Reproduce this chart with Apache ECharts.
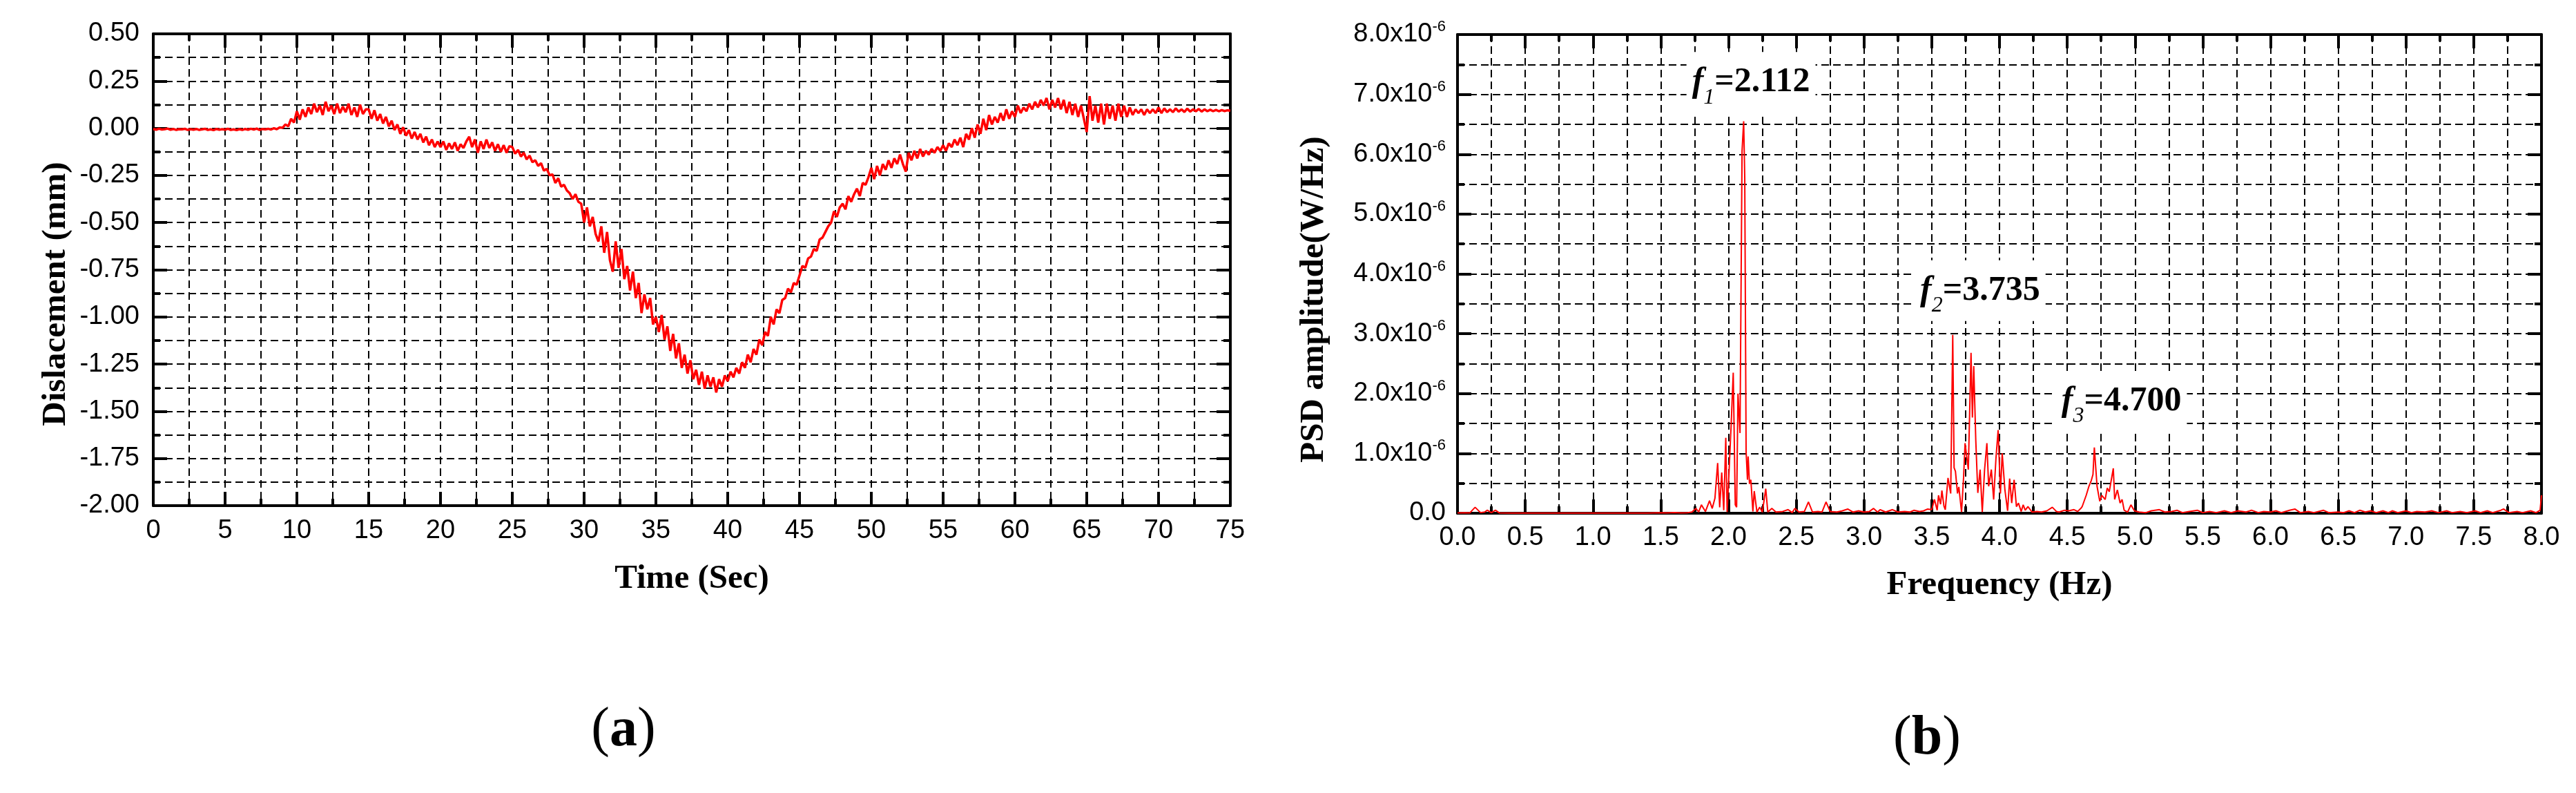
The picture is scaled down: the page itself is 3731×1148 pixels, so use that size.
<!DOCTYPE html>
<html><head><meta charset="utf-8">
<script src="https://cdn.jsdelivr.net/npm/echarts@6/dist/echarts.min.js"></script>
<style>html,body{margin:0;padding:0;background:#fff}#c{width:3731px;height:1148px}</style>
</head><body><div id="c"></div>
<script>
// ---------- DATA ----------
// (a) displacement time history, sampled every dispStep seconds starting at 0 s
const dispStep = 0.2;
const displacement = [
 -0.004,-0.008,-0.003,-0.007,-0.005,-0.002,-0.008,-0.004,-0.009,-0.005,-0.006,-0.003,-0.009,-0.005,-0.008,-0.004,-0.009,-0.006,-0.003,-0.009,-0.006,-0.010,-0.004,-0.008,-0.005,
 -0.008,-0.003,-0.009,-0.006,-0.010,-0.005,-0.009,-0.004,-0.008,-0.003,-0.007,-0.002,-0.009,-0.004,-0.006,-0.003,-0.007,0.000,-0.005,0.004,0.002,0.020,0.010,0.050,0.030,
 0.090,0.045,0.100,0.060,0.110,0.075,0.130,0.085,0.120,0.070,0.140,0.090,0.120,0.075,0.130,0.080,0.115,0.085,0.130,0.070,0.110,0.060,0.125,0.075,0.100,
 0.100,0.050,0.095,0.040,0.075,0.025,0.060,0.010,0.040,-0.010,0.020,-0.030,0.005,-0.040,-0.010,-0.055,-0.020,-0.060,-0.030,-0.075,-0.045,-0.090,-0.060,-0.100,-0.070,
 -0.100,-0.070,-0.115,-0.080,-0.110,-0.075,-0.120,-0.085,-0.105,-0.070,-0.045,-0.100,-0.060,-0.130,-0.070,-0.110,-0.060,-0.105,-0.075,-0.120,-0.085,-0.125,-0.090,-0.130,-0.095,
 -0.100,-0.135,-0.115,-0.150,-0.130,-0.165,-0.145,-0.180,-0.170,-0.200,-0.185,-0.225,-0.215,-0.250,-0.245,-0.290,-0.265,-0.310,-0.300,-0.330,-0.345,-0.375,-0.350,-0.390,-0.400,
 -0.500,-0.420,-0.520,-0.470,-0.560,-0.600,-0.520,-0.660,-0.550,-0.700,-0.760,-0.600,-0.740,-0.640,-0.800,-0.730,-0.860,-0.760,-0.900,-0.820,-0.980,-0.880,-0.960,-0.900,-1.040,
 -1.000,-1.080,-0.990,-1.120,-1.050,-1.180,-1.090,-1.220,-1.140,-1.270,-1.200,-1.300,-1.230,-1.330,-1.280,-1.360,-1.290,-1.380,-1.310,-1.370,-1.320,-1.400,-1.330,-1.370,-1.310,
 -1.340,-1.290,-1.320,-1.270,-1.300,-1.240,-1.270,-1.200,-1.240,-1.170,-1.200,-1.120,-1.150,-1.080,-1.100,-1.000,-1.040,-0.960,-0.980,-0.910,-0.900,-0.850,-0.870,-0.820,-0.830,
 -0.780,-0.730,-0.740,-0.690,-0.680,-0.640,-0.650,-0.590,-0.580,-0.550,-0.520,-0.500,-0.440,-0.470,-0.420,-0.400,-0.430,-0.360,-0.390,-0.350,-0.320,-0.360,-0.290,-0.300,-0.260,
 -0.210,-0.270,-0.200,-0.250,-0.190,-0.220,-0.170,-0.210,-0.160,-0.190,-0.140,-0.190,-0.230,-0.130,-0.170,-0.120,-0.160,-0.110,-0.150,-0.120,-0.140,-0.110,-0.130,-0.100,-0.120,
 -0.090,-0.120,-0.080,-0.100,-0.060,-0.090,-0.050,-0.100,-0.030,-0.060,0.000,-0.050,0.020,-0.030,0.050,-0.010,0.070,0.020,0.060,0.030,0.080,0.040,0.100,0.050,0.090,
 0.060,0.120,0.080,0.110,0.090,0.130,0.100,0.140,0.110,0.150,0.120,0.160,0.100,0.150,0.110,0.160,0.100,0.150,0.080,0.140,0.070,0.130,0.060,0.120,0.050,
 -0.020,0.170,0.040,0.120,0.030,0.130,0.020,0.130,0.050,0.120,0.040,0.130,0.060,0.120,0.060,0.110,0.070,0.100,0.080,0.100,0.070,0.100,0.080,0.100,0.080,
 0.110,0.080,0.105,0.085,0.100,0.085,0.105,0.088,0.100,0.086,0.104,0.088,0.100,0.090,0.102,0.088,0.100,0.090,0.098,0.090,0.097,0.090,0.096,0.091,0.095,0.093
];

// (b) PSD: frequency (Hz) and amplitude (x10^-6 W/Hz)
const psdFreq = [
 0.00,0.05,0.09,0.13,0.17,0.20,0.22,0.25,0.28,0.31,0.40,0.60,0.80,1.00,1.20,1.40,1.50,1.55,1.60,1.65,1.70,1.73,1.76,1.78,1.80,1.83,1.86,1.88,1.90,1.92,
 1.935,1.95,1.965,1.98,1.99,2.00,2.02,2.035,2.05,2.06,2.07,2.085,2.10,2.112,2.12,2.13,2.14,2.145,2.155,2.165,2.18,2.19,2.21,2.23,2.25,2.275,2.29,2.32,2.35,2.40,
 2.44,2.47,2.49,2.52,2.56,2.59,2.62,2.66,2.69,2.72,2.75,2.80,2.84,2.88,2.92,2.96,3.00,3.04,3.07,3.10,3.12,3.16,3.21,3.25,3.30,3.34,3.37,3.41,3.44,3.47,
 3.50,3.52,3.54,3.55,3.565,3.575,3.59,3.60,3.62,3.64,3.655,3.665,3.675,3.69,3.70,3.72,3.735,3.746,3.77,3.79,3.80,3.81,3.825,3.84,3.857,3.873,3.89,3.907,3.92,3.94,
 3.957,3.974,3.99,4.007,4.02,4.04,4.06,4.075,4.09,4.108,4.125,4.14,4.16,4.175,4.19,4.21,4.24,4.275,4.31,4.35,4.39,4.42,4.44,4.48,4.51,4.55,4.577,4.60,4.61,4.64,
 4.66,4.678,4.69,4.70,4.72,4.74,4.755,4.78,4.795,4.81,4.84,4.85,4.87,4.89,4.905,4.92,4.946,4.97,4.996,5.03,5.08,5.12,5.18,5.22,5.27,5.31,5.35,5.40,5.46,5.50,
 5.55,5.60,5.66,5.71,5.76,5.82,5.86,5.91,5.95,6.00,6.04,6.08,6.14,6.18,6.22,6.28,6.32,6.39,6.43,6.50,6.54,6.58,6.62,6.66,6.70,6.74,6.78,6.83,6.87,6.90,
 6.94,7.00,7.04,7.08,7.14,7.19,7.24,7.30,7.34,7.40,7.45,7.51,7.55,7.60,7.64,7.70,7.72,7.76,7.82,7.86,7.92,7.96,7.99,8.00
];
const psdValE6 = [
 0.005,0.01,0.005,0.10,0.01,0.02,0.05,0.01,0.05,0.005,0.004,0.003,0.004,0.003,0.003,0.004,0.01,0.005,0.012,0.005,0.01,0.02,0.08,0.02,0.14,0.03,0.21,0.08,0.25,0.84,
 0.10,0.68,0.05,1.26,0.02,0.49,1.50,2.35,0.14,0.10,2.00,1.34,6.05,6.55,5.60,1.03,0.56,0.95,0.49,0.56,0.03,0.37,0.02,0.10,0.02,0.41,0.02,0.08,0.02,0.03,
 0.06,0.01,0.08,0.02,0.03,0.19,0.02,0.03,0.02,0.19,0.03,0.02,0.04,0.07,0.02,0.04,0.02,0.03,0.08,0.02,0.06,0.02,0.06,0.02,0.03,0.02,0.05,0.03,0.04,0.07,
 0.06,0.23,0.05,0.30,0.15,0.38,0.12,0.06,0.59,0.33,2.98,0.76,0.70,0.33,0.44,0.02,0.60,1.17,0.73,2.68,1.60,2.46,1.22,0.34,0.73,0.02,0.73,1.17,0.45,0.73,
 0.23,0.92,1.39,0.33,1.00,0.39,0.04,0.58,0.17,0.56,0.11,0.17,0.03,0.14,0.05,0.11,0.02,0.03,0.02,0.04,0.10,0.03,0.02,0.05,0.04,0.06,0.03,0.08,0.11,0.30,
 0.45,0.55,0.65,1.10,0.45,0.20,0.30,0.23,0.42,0.36,0.75,0.23,0.39,0.17,0.23,0.05,0.02,0.14,0.04,0.02,0.01,0.04,0.06,0.02,0.03,0.05,0.01,0.03,0.05,0.01,
 0.03,0.01,0.04,0.01,0.04,0.02,0.05,0.01,0.03,0.02,0.04,0.01,0.05,0.07,0.01,0.03,0.01,0.05,0.01,0.02,0.01,0.04,0.01,0.05,0.02,0.04,0.01,0.04,0.01,0.04,
 0.01,0.04,0.01,0.03,0.02,0.04,0.01,0.04,0.01,0.03,0.01,0.04,0.01,0.04,0.01,0.05,0.07,0.01,0.03,0.01,0.04,0.01,0.05,0.30
];

// peak annotations
const peakIndex = ['1', '2', '3'];
const peakFreqText = ['2.112', '3.735', '4.700'];

// ---------- BUILD ----------
const dispData = displacement.map((v, i) => [+(i * dispStep).toFixed(2), v]);
const psdData = psdFreq.map((f, i) => [f, psdValE6[i]]);

const sans = '"Liberation Sans", Arial, sans-serif';
const serif = '"Liberation Serif", "Times New Roman", serif';
const dash = [11, 6];
const black = '#000';

function frameAxis(o) {
  const main = o.main;
  return {
    gridIndex: o.grid, type: 'value', min: o.min, max: o.max, interval: o.interval,
    position: o.position,
    axisLine: { show: true, onZero: false, lineStyle: { color: black, width: 4 } },
    axisTick: { show: true, inside: true, length: 20, lineStyle: { color: black, width: 4 } },
    minorTick: { show: true, splitNumber: 2, length: 10, lineStyle: { color: black, width: 4 } },
    splitLine: { show: main, lineStyle: { color: black, width: 2, type: dash } },
    minorSplitLine: { show: main, lineStyle: { color: black, width: 2, type: dash } },
    axisLabel: main ? Object.assign({ show: true, color: black, fontSize: 38, fontFamily: sans }, o.label || {}) : { show: false },
    name: main ? o.name : '',
    nameLocation: 'middle',
    nameGap: o.nameGap,
    nameTextStyle: Object.assign({ fontSize: 49, fontWeight: 'bold', fontFamily: serif, color: black }, o.nameStyle || {}),
    z: 3
  };
}

const annRich = {
  f: { fontFamily: serif, fontStyle: 'italic', fontWeight: 'bold', fontSize: 50, lineHeight: 76, color: black },
  s: { fontFamily: serif, fontStyle: 'italic', fontSize: 32, lineHeight: 34, verticalAlign: 'bottom', color: black },
  v: { fontFamily: serif, fontWeight: 'bold', fontSize: 50, lineHeight: 76, color: black }
};
const annCoords = [[2.166, 7.2], [3.857, 3.72], [4.90, 1.87]];

const option = {
  animation: false,
  backgroundColor: '#fff',
  grid: [
    { left: 222, top: 49, width: 1560, height: 683 },
    { left: 2111, top: 50, width: 1570, height: 693 }
  ],
  xAxis: [
    frameAxis({ grid: 0, min: 0, max: 75, interval: 5, position: 'bottom', main: true, name: 'Time (Sec)', nameGap: 82,
      label: { margin: 18 } }),
    frameAxis({ grid: 0, min: 0, max: 75, interval: 5, position: 'top', main: false }),
    frameAxis({ grid: 1, min: 0, max: 8, interval: 0.5, position: 'bottom', main: true, name: 'Frequency (Hz)', nameGap: 80,
      label: { margin: 17, formatter: v => v.toFixed(1) } }),
    frameAxis({ grid: 1, min: 0, max: 8, interval: 0.5, position: 'top', main: false })
  ],
  yAxis: [
    frameAxis({ grid: 0, min: -2, max: 0.5, interval: 0.25, position: 'left', main: true, name: 'Dislacement (mm)', nameGap: 116,
      nameStyle: { padding: [0, 70, 0, 0] },
      label: { margin: 20, formatter: v => v.toFixed(2) } }),
    frameAxis({ grid: 0, min: -2, max: 0.5, interval: 0.25, position: 'right', main: false }),
    frameAxis({ grid: 1, min: 0, max: 8, interval: 1, position: 'left', main: true, name: 'PSD amplitude(W/Hz)', nameGap: 183,
      nameStyle: { padding: [0, 74, 0, 0] },
      label: { margin: 17, formatter: v => v === 0 ? '{m|0.0}' : '{m|' + v.toFixed(1) + 'x10}{s|-6}',
        rich: { m: { fontSize: 38, fontFamily: sans, color: black, lineHeight: 44 },
                s: { fontSize: 22, fontFamily: sans, color: black, lineHeight: 22, verticalAlign: 'top' } } } }),
    frameAxis({ grid: 1, min: 0, max: 8, interval: 1, position: 'right', main: false })
  ],
  series: [
    { type: 'line', xAxisIndex: 0, yAxisIndex: 0, data: dispData, symbol: 'none', z: 4,
      lineStyle: { color: '#ff0000', width: 3.5 } },
    { type: 'line', xAxisIndex: 2, yAxisIndex: 2, data: psdData, symbol: 'none', z: 4,
      lineStyle: { color: '#ff0000', width: 2 },
      markPoint: {
        symbol: 'rect', symbolSize: 1, itemStyle: { color: 'rgba(0,0,0,0)' }, z: 6,
        label: { show: true, position: 'inside', backgroundColor: '#fff', padding: [6, 8], rich: annRich },
        data: peakIndex.map((k, i) => ({
          coord: annCoords[i],
          label: { formatter: '{f|f}{s|' + k + '}{v|=' + peakFreqText[i] + '}' }
        }))
      } }
  ],
  graphic: [
    { type: 'text', x: 903, y: 1058, style: { text: '{p|(}{b|a}{p|)}', align: 'center', verticalAlign: 'middle',
      rich: { p: { fontFamily: serif, fontSize: 80, fill: black }, b: { fontFamily: serif, fontWeight: 'bold', fontSize: 80, fill: black } } } },
    { type: 'text', x: 2791, y: 1070, style: { text: '{p|(}{b|b}{p|)}', align: 'center', verticalAlign: 'middle',
      rich: { p: { fontFamily: serif, fontSize: 80, fill: black }, b: { fontFamily: serif, fontWeight: 'bold', fontSize: 80, fill: black } } } }
  ]
};

const chart = echarts.init(document.getElementById('c'), null, { renderer: 'canvas' });
chart.setOption(option);
</script>
</body></html>
